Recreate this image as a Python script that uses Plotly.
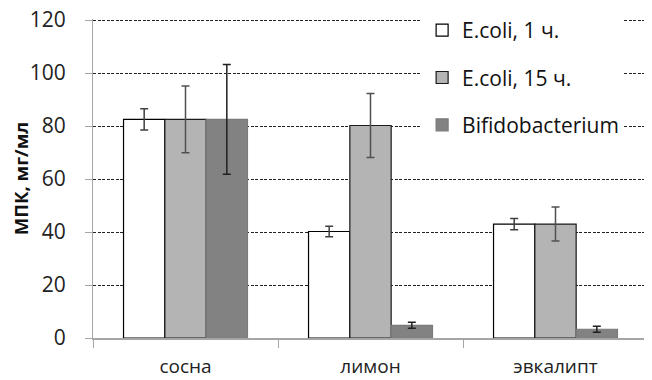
import plotly.graph_objects as go

categories = ["сосна", "лимон", "эвкалипт"]
series_names = ["E.coli, 1 ч.", "E.coli, 15 ч.", "Bifidobacterium"]
ecoli1 = [82.5, 40.2, 43.0]
ecoli1_err = [4.0, 2.0, 2.1]
ecoli15 = [82.5, 80.2, 43.0]
ecoli15_err = [12.6, 12.1, 6.4]
bifido = [82.5, 4.8, 3.3]
bifido_err = [20.7, 1.1, 1.1]
y_ticks = [0, 20, 40, 60, 80, 100, 120]

fills = ["#ffffff", "#b4b4b4", "#828282"]
outlines = ["#000000", "#1a1a1a", "#7a7a7a"]
err_colors = ["#404040", "#505050", "#202020"]

FONT = "'Open Sans', 'Noto Sans', sans-serif"

fig = go.Figure()
for i, (name, vals, errs) in enumerate(zip(series_names,
                                           [ecoli1, ecoli15, bifido],
                                           [ecoli1_err, ecoli15_err, bifido_err])):
    fig.add_trace(go.Bar(
        x=categories, y=vals, name=name,
        legendgroup=f"g{i}",
        marker=dict(color=fills[i], line=dict(color=outlines[i], width=1.2)),
        error_y=dict(type="data", array=errs, visible=True,
                     color=err_colors[i], thickness=1.5, width=4),
    ))

# white legend area hiding the grid behind it (between grid and bars)
fig.add_shape(type="rect", xref="paper", yref="paper",
              x0=0.577, x1=1.0, y0=0.59, y1=1.02,
              fillcolor="white", line=dict(width=0), layer="between")

# page body has an 8px margin, so the figure is 8px smaller and margins shifted
fig.update_layout(
    width=644, height=372,
    margin=dict(l=85, r=4, t=11, b=42, autoexpand=False),
    paper_bgcolor="white", plot_bgcolor="white",
    barmode="group", bargap=0.33, bargroupgap=0,
    font=dict(family=FONT, color="#222222", size=19),
    showlegend=True,
    legend=dict(x=0.593, y=1.028, xanchor="left", yanchor="top",
                bgcolor="white", borderwidth=0,
                font=dict(size=21, color="#111111"),
                traceorder="grouped", tracegroupgap=17),
    xaxis=dict(type="category", showgrid=False, automargin=False,
               showline=True, linecolor="#a6a6a6", linewidth=1.5,
               ticks="outside", tickson="boundaries", ticklen=8,
               tickcolor="#a6a6a6",
               ticklabelstandoff=10,
               tickfont=dict(size=19, color="#222222")),
    yaxis=dict(range=[0, 120.4], tickvals=y_ticks, ticktext=[str(v) for v in y_ticks],
               automargin=False, ticklabeloverflow="allow",
               showgrid=True, gridcolor="#222222", griddash="3px,1.5px", gridwidth=1,
               zeroline=False,
               showline=True, linecolor="#a6a6a6", linewidth=1,
               ticks="outside", ticklen=7, tickcolor="#a6a6a6",
               ticklabelstandoff=15,
               tickfont=dict(size=21, color="#222222"),
               title=dict(text="<b>МПК, мг/мл</b>", font=dict(size=18.5, color="#111111"),
                          standoff=0)),
)

fig.write_html("out.html")
